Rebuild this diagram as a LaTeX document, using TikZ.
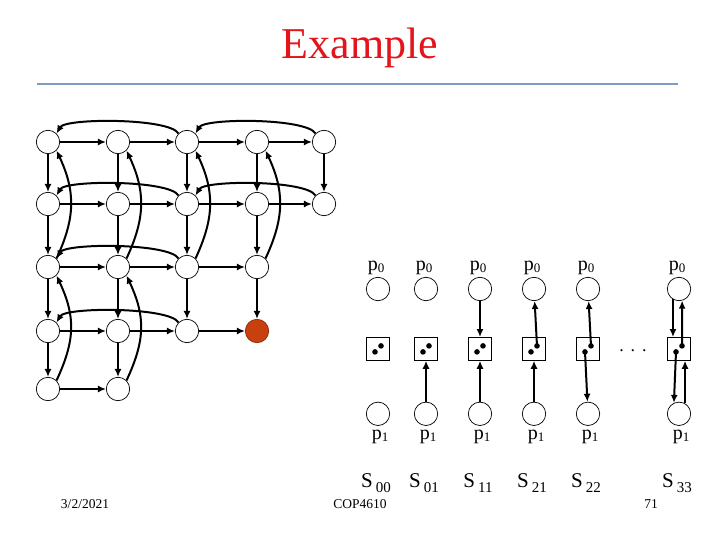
\documentclass[tikz,border=0pt]{standalone}
\usepackage{fontspec}
\setmainfont{Liberation Serif}
\usetikzlibrary{positioning,arrows.meta}
\definecolor{cTitle}{HTML}{E3141B}
\definecolor{cRule}{HTML}{7F9DC0}
\definecolor{cGoal}{HTML}{C9400F}
\definecolor{cGoalEdge}{HTML}{8A2A08}
\tikzset{
  vx/.style={circle, draw, line width=0.7pt, fill=white, minimum size=23.4pt, inner sep=0pt},
  vxr/.style={vx, fill=cGoal, draw=cGoalEdge},
  lk/.style={rectangle, draw, line width=0.7pt, minimum size=23pt, inner sep=0pt},
  ar/.style={-{Latex[length=8pt,width=7pt]}, line width=2pt},
  plbl/.style={font=\fontsize{20}{22}\selectfont, inner sep=1pt},
  slbl/.style={font=\fontsize{21}{23}\selectfont, inner sep=1pt},
  foot/.style={font=\fontsize{13.5}{15}\selectfont, inner sep=0pt},
}
\newcommand{\pz}{p\raisebox{-2pt}{\fontsize{13}{13}\selectfont 0}}
\newcommand{\po}{p\raisebox{-2pt}{\fontsize{13}{13}\selectfont 1}}
\newcommand{\stlbl}[1]{S\hspace{3pt}\raisebox{-5pt}{\fontsize{15}{15}\selectfont #1}}

\begin{document}
\begin{tikzpicture}[x=1pt, y=1pt]
  \useasboundingbox (0,0) rectangle (720,-540);
  \node[font=\fontsize{44}{48}\selectfont, text=cTitle] (ttl) at (360,-48) {Example};
  \draw[cRule, line width=2pt] (37,-84) -- (678,-84);

  % grid of states, goal in red
  \foreach \r/\y/\n in {0/142/4,1/204/4,2/267/3,3/331/3,4/389/1}
    \foreach \c/\x in {0/48,1/118,2/187,3/257,4/324}
      {\ifnum\c>\n\else
         \ifnum\r\c=33 \node[vxr] (g\r\c) at (\x,-\y) {};
         \else \node[vx] (g\r\c) at (\x,-\y) {}; \fi
       \fi}
  \foreach \a/\b in {00/01,01/02,02/03,03/04,10/11,11/12,12/13,13/14,
                     20/21,21/22,22/23,30/31,31/32,32/33,40/41,
                     00/10,10/20,20/30,30/40,01/11,11/21,21/31,31/41,
                     02/12,12/22,22/32,03/13,13/23,23/33,04/14}
    \draw[ar] (g\a) -- (g\b);
  \foreach \a/\b in {02/00,04/02,12/10,14/12,22/20,32/30}
    \draw[ar] (g\a.135) .. controls +(120:18) and +(60:18) .. (g\b.45);
  \foreach \a/\b in {20/00,40/20,21/01,41/21,22/02,23/03}
    \draw[ar] (g\a.45) .. controls +(65:45) and +(-65:45) .. (g\b.-45);

  % two processes and the link between them
  \foreach \i/\x/\s in {0/378/00,1/426/01,2/480/11,3/534/21,4/588/22,5/679/33}{
    \node[vx] (t\i) at (\x,-289) {};
    \node[lk, below=36pt of t\i] (q\i) {};
    \node[vx, below=41pt of q\i] (b\i) {};
    \node[plbl, above=1pt of t\i, xshift=-2pt] (pt\i) {\pz};
    \node[plbl, below=3pt of b\i, xshift=2pt] (pb\i) {\po};
    \node[slbl, below=47pt of b\i, xshift=-2pt] (s\i) {\stlbl{\s}};
    \coordinate (u\i) at ([xshift=3pt,yshift=3pt]q\i.center);
    \coordinate (d\i) at ([xshift=-3pt,yshift=-3pt]q\i.center);
    \fill (u\i) circle (2.8pt) (d\i) circle (2.8pt);
  }
  \node[font=\fontsize{18}{20}\selectfont, inner sep=0pt] (dots) at (633,-351)
    {.\hspace{7pt}.\hspace{7pt}.};
  \draw[ar] (b1) -- (q1);
  \draw[ar] (t2) -- (q2); \draw[ar] (b2) -- (q2);
  \draw[ar] (b3) -- (q3); \draw[ar] (u3) -- (t3);
  \draw[ar] (u4) -- (t4); \draw[ar] (d4) -- (b4);
  \draw[ar] (t5.-120) -- (t5.-120 |- q5.north);
  \draw[ar] (u5) -- (t5.-75);
  \draw[ar] (d5) -- (b5.115);
  \draw[ar] (b5.60) -- (b5.60 |- q5.south);

  \node[foot] (dt) at (85,-504) {3/2/2021};
  \node[foot] (crs) at (360,-504) {COP4610};
  \node[foot] (pg) at (651,-504) {71};
\end{tikzpicture}
\end{document}
